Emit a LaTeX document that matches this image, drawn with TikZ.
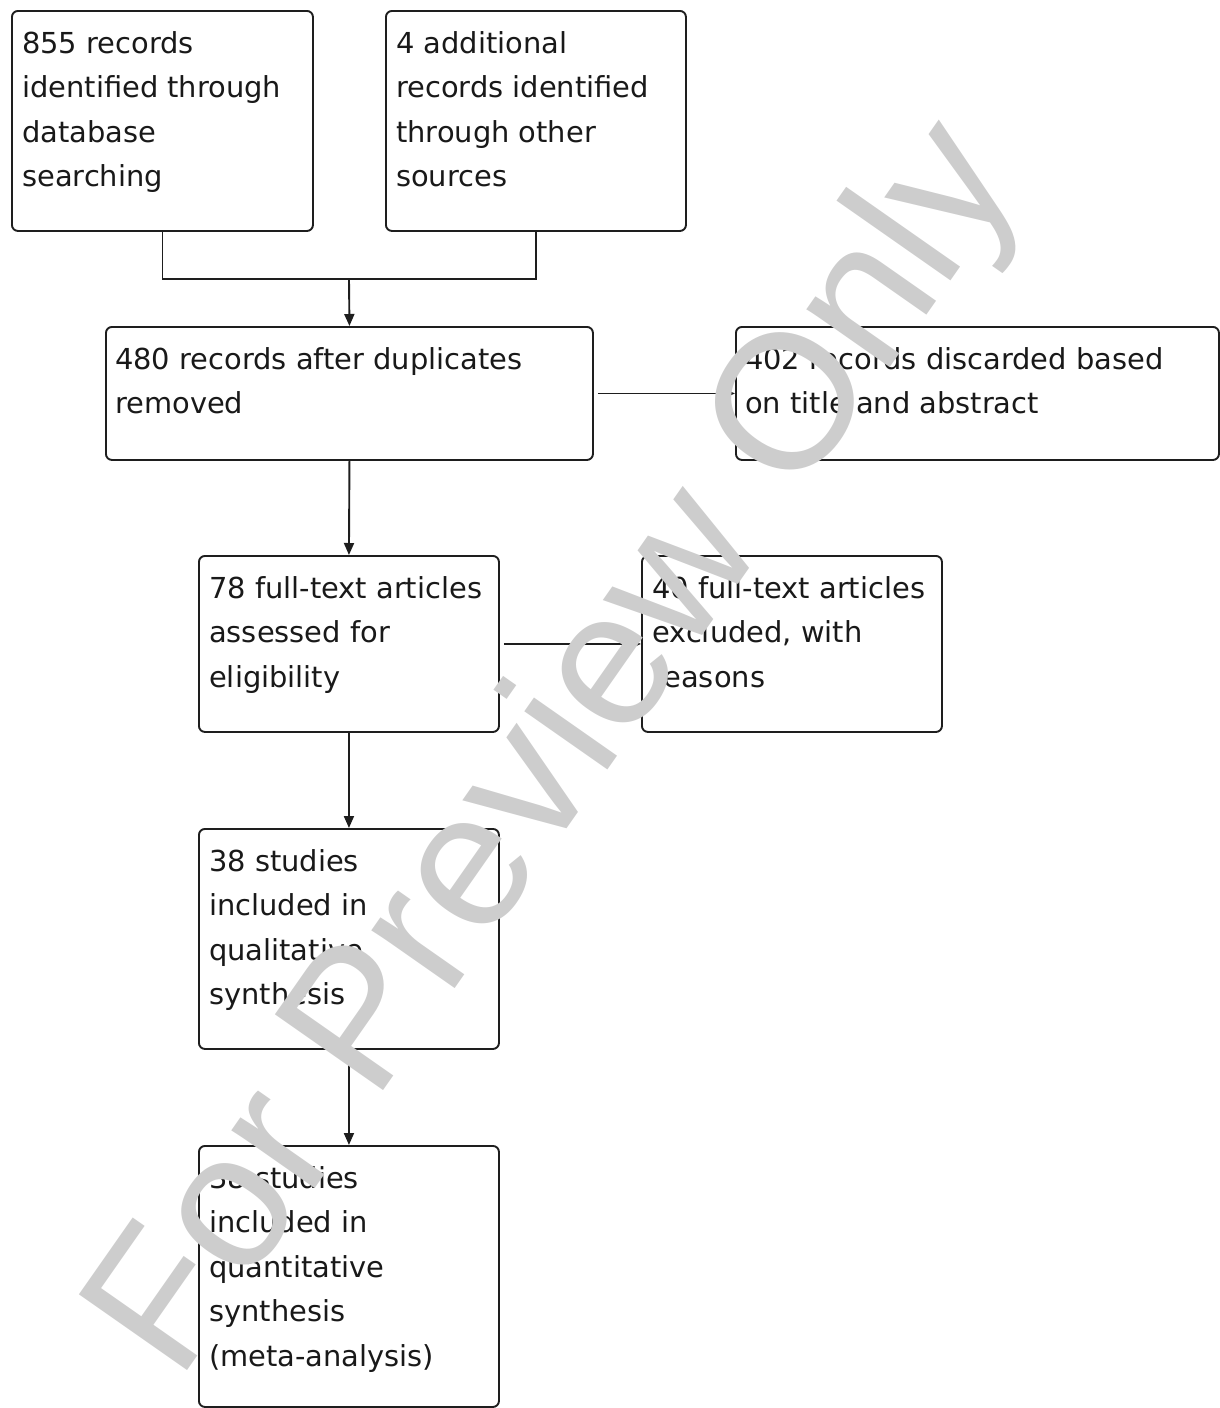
\documentclass[tikz,border=0pt]{standalone}
\usepackage{fontspec}
\setmainfont{DejaVu Sans}
\newfontfamily\wmfont{Liberation Sans}
\usetikzlibrary{arrows.meta}
\definecolor{ln}{RGB}{30,30,30}
\definecolor{wmgray}{RGB}{205,205,205}
\begin{document}
\begin{tikzpicture}[x=1pt,y=-1pt,
  box/.style={draw=ln, line width=1.9pt, rounded corners=6pt, inner sep=0pt, anchor=north west},
  txt/.style={anchor=north west, inner sep=0pt, align=left, text=black!90,
    font=\fontsize{28.9}{44.5}\selectfont, execute at begin node=\strut},
  conn/.style={draw=ln, line width=1.9pt},
  arr/.style={conn, -{Triangle[length=12pt,width=10pt]}},
  wm/.style={text=wmgray, font=\wmfont\fontsize{192}{200}\selectfont, rotate=55, inner sep=0pt, anchor=base west}]
\useasboundingbox (0,0) rectangle (1220,1408);
% boxes
\node[box, minimum width=301pt, minimum height=220pt] (A) at (11,10) {};
\node[box, minimum width=300pt, minimum height=220pt] (B) at (385,10) {};
\node[box, minimum width=487pt, minimum height=133pt] (C) at (105,326) {};
\node[box, minimum width=483pt, minimum height=133pt] (D) at (735,326) {};
\node[box, minimum width=300pt, minimum height=176pt] (E) at (198,555) {};
\node[box, minimum width=300pt, minimum height=176pt] (F) at (641,555) {};
\node[box, minimum width=300pt, minimum height=220pt] (G) at (198,828) {};
\node[box, minimum width=300pt, minimum height=261pt] (H) at (198,1145) {};
% texts
\node[txt] (At) at (22,31) {855 records\\identified through\\database\\searching};
\node[txt] (Bt) at (396,31) {4 additional\\records identified\\through other\\sources};
\node[txt] (Ct) at (115,347) {480 records after duplicates\\removed};
\node[txt] (Dt) at (745,347) {402 records discarded based\\on title and abstract};
\node[txt] (Et) at (209,576) {78 full-text articles\\assessed for\\eligibility};
\node[txt] (Ft) at (652,576) {40 full-text articles\\excluded, with\\reasons};
\node[txt] (Gt) at (209,849) {38 studies\\included in\\qualitative\\synthesis};
\node[txt] (Ht) at (209,1166) {38 studies\\included in\\quantitative\\synthesis\\(meta-analysis)};
% connectors
\coordinate (J) at (349,279);
\draw[conn] (A.south) |- (J);
\draw[conn] (B.south) |- (J);
\draw[arr] (J) -- (C.north);
\draw[arr, shorten <=4pt] (C.east) -- (D.west);
\draw[arr] (C.south) -- (E.north);
\draw[arr, shorten <=4pt] (E.east) -- (F.west);
\draw[arr] (E.south) -- (G.north);
\draw[arr] (G.south) -- (H.north);
% watermark
\node[wm] (WM) at (178.5,1383.6) {For Preview Only};
\end{tikzpicture}
\end{document}
